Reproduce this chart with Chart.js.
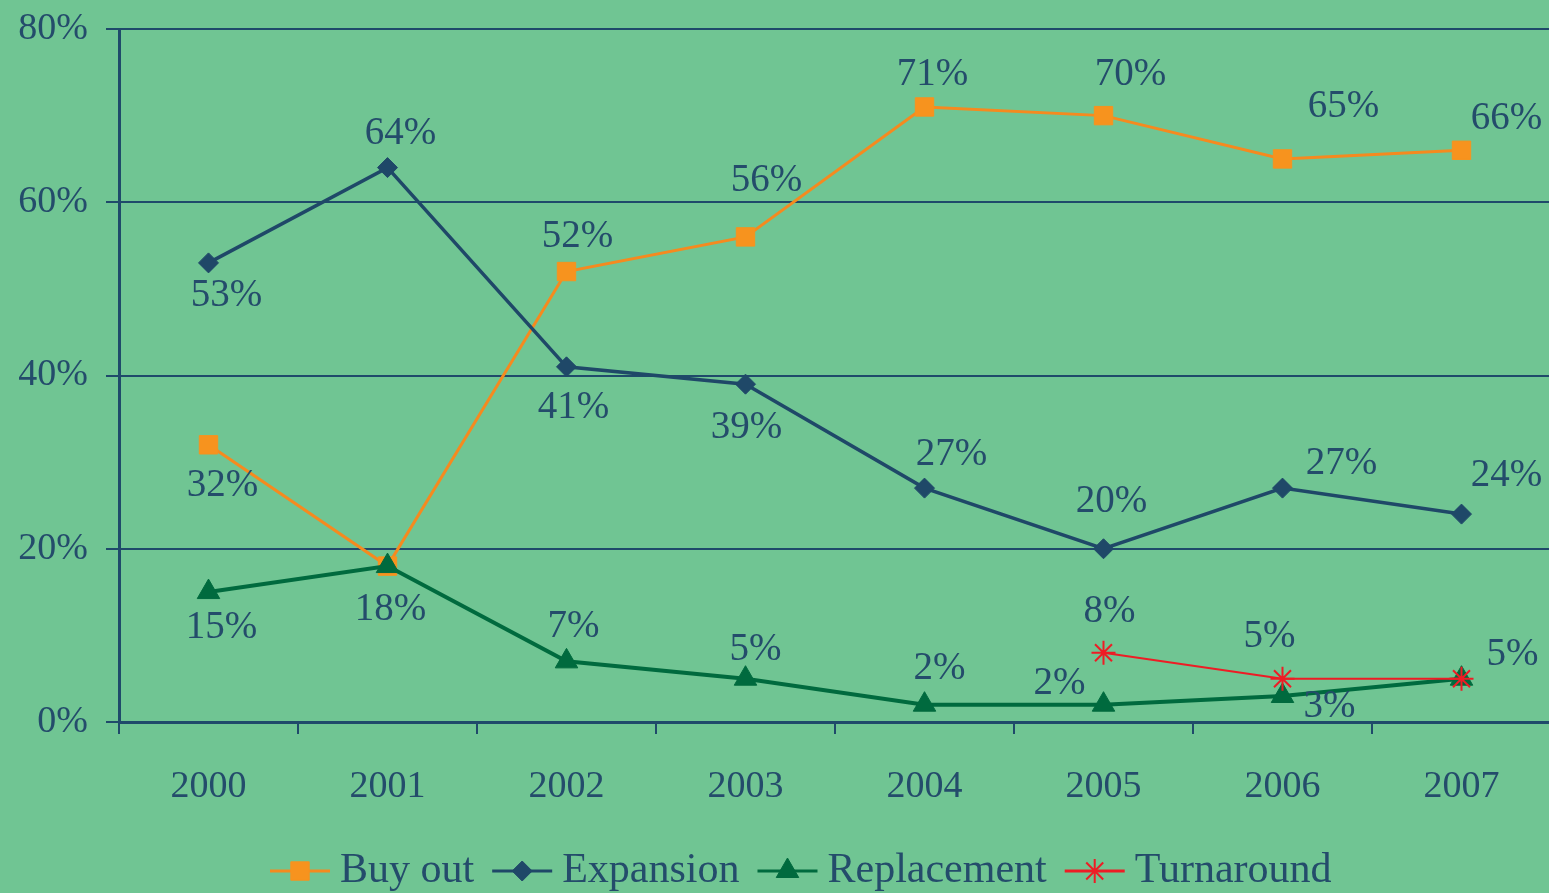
<!DOCTYPE html>
<html>
<head>
<meta charset="utf-8">
<script src="https://cdn.jsdelivr.net/npm/chart.js@4"></script>
<style>
  html, body { margin: 0; padding: 0; background: #70C593; overflow: hidden; }
  #wrap { width: 1552px; height: 893px; }
</style>
</head>
<body>
<div id="wrap"><canvas id="chart" width="1552" height="893"></canvas></div>
<script>
const years = ['2000', '2001', '2002', '2003', '2004', '2005', '2006', '2007'];
const buyOut = [32, 18, 52, 56, 71, 70, 65, 66];
const expansion = [53, 64, 41, 39, 27, 20, 27, 24];
const replacement = [15, 18, 7, 5, 2, 2, 3, 5];
const turnaround = [null, null, null, null, null, 8, 5, 5];

// where each value label sits relative to its point (null = no label)
const labelOffsets = {
  'Buy out': [[14, 41], null, [11, -35], [21, -56], [8, -32], [27, -41], [61, -52], [45, -32]],
  'Expansion': [[18, 33], [13, -34], [7, 41], [1, 44], [27, -33], [8, -47], [59, -24], [45, -38]],
  'Replacement': [[13, 36], [3, 44], [7, -35], [10, -29], [15, -36], [-44, -21], [47, 11], [51, -24]],
  'Turnaround': [null, null, null, null, null, [6, -41], [-13, -42], null]
};

const textColor = '#244c6b';
const axisColor = '#1f4a6a';
const fontFamily = '"Liberation Serif", "Times New Roman", serif';

const valueLabels = {
  id: 'valueLabels',
  afterDatasetsDraw(chart) {
    const ctx = chart.ctx;
    ctx.save();
    ctx.font = '39px ' + fontFamily;
    ctx.fillStyle = textColor;
    ctx.textAlign = 'center';
    ctx.textBaseline = 'middle';
    chart.data.datasets.forEach((ds, i) => {
      const meta = chart.getDatasetMeta(i);
      const offs = labelOffsets[ds.label];
      meta.data.forEach((pt, j) => {
        if (ds.data[j] == null || !offs[j]) return;
        ctx.fillText(ds.data[j] + '%', pt.x + offs[j][0], pt.y + offs[j][1]);
      });
    });
    ctx.restore();
  }
};

const lineLegend = {
  id: 'lineLegend',
  afterDraw(chart) {
    const ctx = chart.ctx;
    ctx.save();
    ctx.font = '42px ' + fontFamily;
    ctx.textBaseline = 'middle';
    let x = 270;
    const y = 871;
    chart.data.datasets.forEach(ds => {
      ctx.strokeStyle = ds.borderColor;
      ctx.lineWidth = 3;
      ctx.beginPath();
      ctx.moveTo(x, y);
      ctx.lineTo(x + 60, y);
      ctx.stroke();
      ctx.fillStyle = ds.pointBackgroundColor;
      ctx.strokeStyle = ds.pointBorderColor;
      ctx.lineWidth = ds.pointBorderWidth || 1;
      Chart.helpers.drawPoint(ctx, {
        pointStyle: ds.pointStyle,
        radius: ds.pointRadius,
        borderWidth: ds.pointBorderWidth || 1,
        rotation: 0
      }, x + 30, y);
      ctx.fillStyle = textColor;
      ctx.textAlign = 'left';
      ctx.fillText(ds.label, x + 70, y);
      x += 70 + ctx.measureText(ds.label).width + 18;
    });
    ctx.restore();
  }
};

new Chart(document.getElementById('chart').getContext('2d'), {
  type: 'line',
  data: {
    labels: years,
    datasets: [
      {
        label: 'Buy out', data: buyOut, order: 3,
        borderColor: '#f58a1f', borderWidth: 3,
        pointStyle: 'rect', pointRadius: 13,
        pointBackgroundColor: '#f7931e', pointBorderColor: '#f7931e', pointBorderWidth: 1
      },
      {
        label: 'Expansion', data: expansion, order: 2,
        borderColor: '#1f4868', borderWidth: 3.5,
        pointStyle: 'rectRot', pointRadius: 10,
        pointBackgroundColor: '#1f4868', pointBorderColor: '#1f4868', pointBorderWidth: 1
      },
      {
        label: 'Replacement', data: replacement, order: 1,
        borderColor: '#006a3e', borderWidth: 4,
        pointStyle: 'triangle', pointRadius: 13,
        pointBackgroundColor: '#006a3e', pointBorderColor: '#006a3e', pointBorderWidth: 1
      },
      {
        label: 'Turnaround', data: turnaround, order: 0,
        borderColor: '#ee1c25', borderWidth: 2,
        pointStyle: 'star', pointRadius: 12,
        pointBackgroundColor: '#ee1c25', pointBorderColor: '#ee1c25', pointBorderWidth: 2
      }
    ]
  },
  options: {
    responsive: false,
    animation: false,
    layout: { autoPadding: false, padding: { left: 0, right: 1, top: 29, bottom: 71 } },
    plugins: {
      legend: { display: false },
      tooltip: { enabled: false }
    },
    scales: {
      x: {
        offset: true,
        grid: {
          offset: true, drawOnChartArea: false, drawTicks: true,
          tickLength: 12, color: axisColor, lineWidth: 2
        },
        border: { color: axisColor, width: 3 },
        ticks: { color: textColor, font: { family: fontFamily, size: 38 }, padding: 30 },
        afterFit: s => { s.height = 100; s.paddingLeft = 0; s.paddingRight = 0; }
      },
      y: {
        min: 0, max: 80,
        grid: { color: axisColor, lineWidth: 2, tickLength: 13 },
        border: { color: axisColor, width: 3 },
        ticks: {
          stepSize: 20, color: textColor, padding: 18,
          font: { family: fontFamily, size: 38 },
          callback: v => v + '%'
        },
        afterFit: s => { s.width = 119; s.paddingTop = 0; s.paddingBottom = 0; }
      }
    }
  },
  plugins: [valueLabels, lineLegend]
});
</script>
</body>
</html>
